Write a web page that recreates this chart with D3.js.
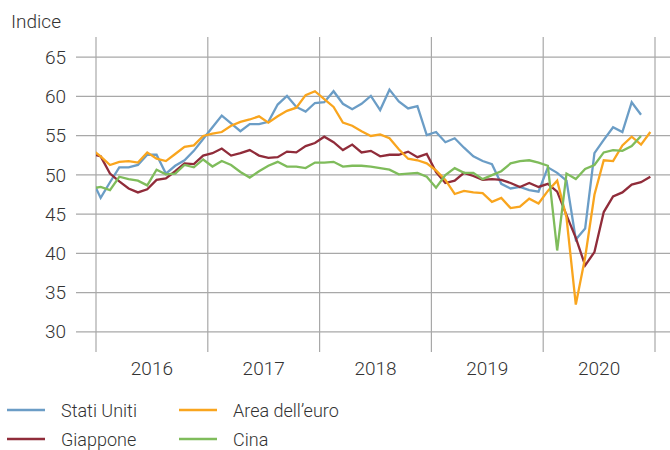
<!DOCTYPE html>
<html>
<head>
<meta charset="utf-8">
<script src="https://cdn.jsdelivr.net/npm/d3@7"></script>
<style>
  body { margin: 0; background: #fff; }
  svg text { font-family: Roboto, "DejaVu Sans", sans-serif; font-weight: 300; fill: #333; }
</style>
</head>
<body>
<svg id="chart" width="670" height="450"></svg>
<script>
// Monthly PMI, first value is Dec 2015 (clipped at the left axis)
const years = ['2016', '2017', '2018', '2019', '2020'];
const yTicks = [30, 35, 40, 45, 50, 55, 60, 65];

const statiUniti = [49.5,
  47.0, 49.0, 50.9, 50.9, 51.2, 52.5, 52.5, 50.1, 51.1, 51.8, 53.0, 54.5,
  56.0, 57.5, 56.5, 55.5, 56.4, 56.4, 56.7, 58.9, 60.0, 58.6, 58.0, 59.1,
  59.2, 60.6, 59.0, 58.3, 59.0, 60.0, 58.2, 60.8, 59.3, 58.4, 58.7, 55.0,
  55.4, 54.1, 54.6, 53.4, 52.3, 51.7, 51.3, 48.8, 48.2, 48.4, 48.0, 47.8,
  50.9, 50.2, 49.2, 41.7, 43.1, 52.7, 54.4, 56.0, 55.4, 59.2, 57.6];

const giappone = [52.6,
  52.3, 50.1, 49.1, 48.2, 47.7, 48.1, 49.3, 49.5, 50.4, 51.4, 51.3, 52.4,
  52.7, 53.3, 52.4, 52.7, 53.1, 52.4, 52.1, 52.2, 52.9, 52.8, 53.6, 54.0,
  54.8, 54.1, 53.1, 53.8, 52.8, 53.0, 52.3, 52.5, 52.5, 52.9, 52.2, 52.6,
  50.3, 48.9, 49.2, 50.2, 49.8, 49.3, 49.4, 49.3, 48.9, 48.4, 48.9, 48.4,
  48.8, 47.8, 44.8, 41.9, 38.4, 40.1, 45.2, 47.2, 47.7, 48.7, 49.0, 49.7];

const areaEuro = [53.2,
  52.3, 51.2, 51.6, 51.7, 51.5, 52.8, 52.0, 51.7, 52.6, 53.5, 53.7, 54.9,
  55.2, 55.4, 56.2, 56.7, 57.0, 57.4, 56.6, 57.4, 58.1, 58.5, 60.1, 60.6,
  59.6, 58.6, 56.6, 56.2, 55.5, 54.9, 55.1, 54.6, 53.2, 52.0, 51.8, 51.4,
  50.5, 49.3, 47.5, 47.9, 47.7, 47.6, 46.5, 47.0, 45.7, 45.9, 46.9, 46.3,
  47.9, 49.2, 44.5, 33.4, 39.4, 47.4, 51.8, 51.7, 53.7, 54.8, 53.8, 55.4];

const cina = [48.2,
  48.4, 48.0, 49.7, 49.4, 49.2, 48.6, 50.6, 50.0, 50.1, 51.2, 50.9, 51.9,
  51.0, 51.7, 51.2, 50.3, 49.6, 50.4, 51.1, 51.6, 51.0, 51.0, 50.8, 51.5,
  51.5, 51.6, 51.0, 51.1, 51.1, 51.0, 50.8, 50.6, 50.0, 50.1, 50.2, 49.7,
  48.3, 49.9, 50.8, 50.2, 50.2, 49.4, 49.9, 50.4, 51.4, 51.7, 51.8, 51.5,
  51.1, 40.3, 50.1, 49.4, 50.7, 51.2, 52.8, 53.1, 53.0, 53.6, 54.9];

const series = [
  { name: 'Stati Uniti', values: statiUniti, color: '#6b9dc6' },
  { name: 'Giappone', values: giappone, color: '#902c3a' },
  { name: "Area dell\u2019euro", values: areaEuro, color: '#f9a51e' },
  { name: 'Cina', values: cina, color: '#7fbc5b' }
];

const svg = d3.select('#chart');
const left = 96, right = 655;

// month index: Jan 2016 = 0, points sit mid-month
const x = d3.scaleLinear().domain([0, 60]).range([left, right]);
const y = d3.scaleLinear().domain([30, 65]).range([331.3, 56.7]);
const yearBand = d3.scaleBand().domain(years).range([left, right]);

// Horizontal grid + tick labels
const yAxis = d3.axisLeft(y).tickValues(yTicks).tickSize(-(670 - 76)).tickPadding(10);
const gy = svg.append('g')
  .attr('transform', 'translate(76,0)')
  .call(yAxis);
gy.select('.domain').remove();
gy.selectAll('.tick line').attr('stroke', '#a8a8a8').attr('stroke-width', 1.2);
gy.selectAll('.tick text')
  .attr('x', -10)
  .attr('dy', '0.35em')
  .attr('font-size', 19)
  .style('font-family', 'Roboto, sans-serif')
  .style('font-weight', 300)
  .style('fill', '#333');

// Vertical year separators
svg.append('g')
  .selectAll('line')
  .data(d3.range(0, 61, 12))
  .enter()
  .append('line')
  .attr('x1', d => x(d))
  .attr('x2', d => x(d))
  .attr('y1', 37)
  .attr('y2', 352)
  .attr('stroke', '#a8a8a8')
  .attr('stroke-width', 1.2);

// Year labels
svg.append('g')
  .selectAll('text')
  .data(years)
  .enter()
  .append('text')
  .attr('x', d => yearBand(d) + yearBand.bandwidth() / 2)
  .attr('y', 375)
  .attr('text-anchor', 'middle')
  .attr('font-size', 19)
  .text(d => d);

svg.append('text')
  .attr('x', 11)
  .attr('y', 28)
  .attr('font-size', 19)
  .text('Indice');

// Lines, clipped to the plot area
svg.append('clipPath')
  .attr('id', 'plot-clip')
  .append('rect')
  .attr('x', left)
  .attr('y', 0)
  .attr('width', right - left)
  .attr('height', 450);

const line = d3.line()
  .x((d, i) => x(i - 0.5))
  .y(d => y(d));

svg.append('g')
  .attr('clip-path', 'url(#plot-clip)')
  .selectAll('path')
  .data(series)
  .enter()
  .append('path')
  .attr('d', d => line(d.values))
  .attr('fill', 'none')
  .attr('stroke', d => d.color)
  .attr('stroke-width', 2.3)
  .attr('stroke-linejoin', 'miter');

// Legend: two columns
const legend = svg.append('g')
  .selectAll('g')
  .data(series)
  .enter()
  .append('g')
  .attr('transform', (d, i) => `translate(${i < 2 ? 7 : 179}, ${i % 2 === 0 ? 410 : 439})`);

legend.append('line')
  .attr('x1', 0)
  .attr('x2', 38)
  .attr('stroke', d => d.color)
  .attr('stroke-width', 2.5);

legend.append('text')
  .attr('x', 54)
  .attr('y', 6.5)
  .attr('font-size', 18)
  .text(d => d.name);
</script>
</body>
</html>
